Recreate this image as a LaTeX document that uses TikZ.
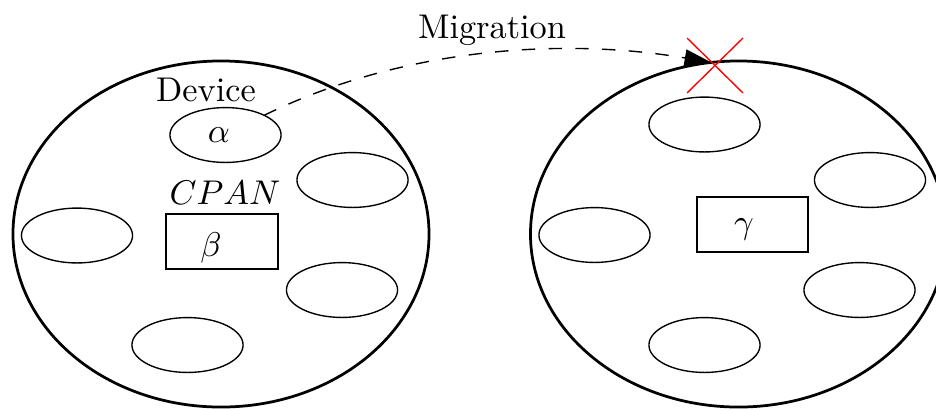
\documentclass[tikz,border=0pt]{standalone}
\usetikzlibrary{shapes.geometric,arrows.meta}
\begin{document}
\begin{tikzpicture}[x=0.29155pt,y=-0.29155pt,
  bigell/.style={draw,ellipse,thick,minimum width=121.3pt,minimum height=100.9pt,inner sep=0pt,outer sep=0pt},
  smallell/.style={draw,ellipse,minimum width=32.4pt,minimum height=16.0pt,inner sep=0pt,outer sep=0pt},
  cpanbox/.style={draw,rectangle,semithick,minimum width=32.4pt,minimum height=16.0pt,inner sep=0pt,outer sep=0pt},
  lbl/.style={inner sep=0pt,anchor=base},
  migr/.style={draw,thin,dash pattern=on 3.9pt off 3.9pt,-{Triangle[length=7.8pt,width=5pt]}},
  crossline/.style={draw,red,thin}]
\useasboundingbox (0,0) rectangle (936,408);
\clip (0,0) rectangle (936,408);
% left device
\node[bigell] (L) at (221,234) {};
\node[smallell] (a) at (225.5,135) {};
\node[lbl] (at) at (219,142) {$\alpha$};
\node[smallell] (l1) at (352.5,180) {};
\node[smallell] (l2) at (77,235.5) {};
\node[smallell] (l3) at (342,290) {};
\node[smallell] (l4) at (187.5,345) {};
\node[cpanbox] (b) at (222,241.5) {};
\node[lbl] (bt) at (211,256.5) {$\beta$};
\node[lbl] (dev) at (206,101) {Device};
\node[lbl] (cpan) at (225,204) {$CPAN$};
% right device
\node[bigell] (R) at (738.5,234) {};
\node[smallell] (r0) at (704.5,124.5) {};
\node[smallell] (r1) at (870,180) {};
\node[smallell] (r2) at (594.5,235) {};
\node[smallell] (r3) at (859.5,290) {};
\node[smallell] (r4) at (704.5,345) {};
\node[cpanbox] (g) at (752.5,224.5) {};
\node[lbl] (gt) at (744,233) {$\gamma$};
% migration
\node[lbl] (mig) at (492,38) {Migration};
\path[migr] (a.27) .. controls (402,48) and (562,37) .. (R.99.5);
% red cross
\coordinate (c1) at (687,38);
\coordinate (c2) at (743,93);
\coordinate (c3) at (743,38);
\coordinate (c4) at (687,93);
\path[crossline] (c1) -- (c2);
\path[crossline] (c3) -- (c4);
\end{tikzpicture}
\end{document}
